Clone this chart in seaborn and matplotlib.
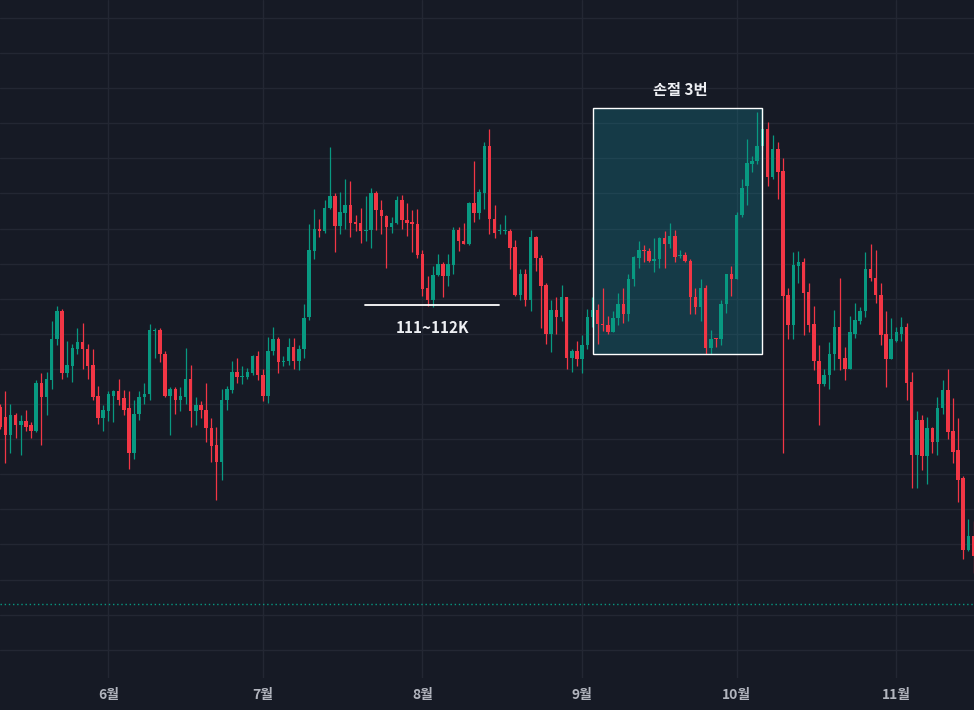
import numpy as np
import pandas as pd
import matplotlib
matplotlib.use("Agg")
import matplotlib.pyplot as plt
import matplotlib.dates as mdates
from matplotlib.patches import Rectangle
import seaborn as sns

# ============================================================
# DATA  (daily candles, price in thousand USD)
# ============================================================

start_date = "2025-05-11"
end_date = "2025-11-16"

opens = (
    [104.8, 104.1, 102.8, 104.2, 103.5, 103.8, 103.5, 103.1, 106.5, 105.5, 106.7, 109.6, 111.6, 107.2, 107.7, 108.9, 109.4, 108.9, 107.8, 105.6, 104.0]
    + [104.5, 105.6, 105.9, 105.4, 104.7, 101.5, 104.3, 105.5, 105.7, 110.2, 110.3, 108.6, 105.6, 106.1, 105.3, 105.5, 106.8, 104.5, 104.9, 104.6, 103.3, 102.1, 100.9, 105.3, 106.0, 107.3, 106.9, 106.9, 107.2, 108.4]
    + [107.1, 105.6, 108.8, 109.6, 108.0, 108.1, 109.1, 108.1, 108.9, 111.2, 115.9, 117.5, 117.3, 119.0, 119.8, 117.7, 118.6, 119.2, 118.0, 117.9, 117.3, 117.4, 120.0, 118.8, 118.4, 117.6, 117.9, 119.5, 118.1, 118.0, 117.8]
    + [115.7, 113.3, 112.4, 114.2, 115.0, 114.1, 114.9, 117.4, 116.6, 116.4, 119.3, 118.6, 120.0, 123.4, 118.2, 117.3, 117.3, 117.3, 116.2, 112.8, 114.3, 112.4, 116.9, 115.4, 113.5, 110.0, 111.7, 111.2, 112.6, 108.3, 108.8]
    + [108.2, 109.2, 111.2, 111.7, 110.7, 110.6, 110.1, 111.1, 112.1, 111.4, 113.9, 115.4, 116.0, 115.9, 115.2, 115.3, 116.8, 116.4, 117.0, 115.55, 115.6, 115.2, 112.6, 111.9, 113.3, 109.0, 109.65, 109.6, 112.1, 114.3]
    + [113.9, 118.5, 120.5, 122.1, 122.3, 123.4, 124.6, 121.2, 123.2, 121.6, 112.8, 110.6, 114.8, 115.1, 113.0, 110.7, 108.1, 106.4, 107.1, 108.6, 110.5, 108.3, 107.5, 110.0, 110.9, 111.6, 114.6, 114.0, 112.8, 110.0, 108.2]
    + [109.5, 110.0, 110.5, 106.6, 101.4, 103.9, 101.3, 103.3, 102.3, 104.7, 106.0, 103.1, 101.7, 99.7, 94.6, 95.6]
)

highs = (
    [105.0, 105.9, 105.0, 104.4, 104.2, 104.6, 103.7, 106.7, 107.2, 107.3, 110.9, 112.0, 111.8, 109.5, 109.3, 110.4, 110.8, 109.3, 108.9, 106.3, 104.9]
    + [105.9, 106.0, 106.8, 106.0, 105.9, 105.3, 105.9, 106.5, 110.7, 110.4, 110.4, 108.8, 106.2, 106.2, 106.2, 109.0, 107.8, 105.5, 105.2, 106.5, 104.0, 103.4, 106.1, 106.3, 108.1, 108.3, 107.7, 107.6, 108.5, 108.8]
    + [107.5, 109.8, 110.5, 109.8, 108.4, 109.7, 109.7, 109.2, 112.1, 117.8, 118.9, 118.2, 119.5, 123.3, 120.0, 120.1, 121.0, 120.9, 118.5, 119.0, 119.8, 120.4, 120.2, 119.5, 118.5, 118.3, 119.8, 119.9, 119.3, 118.8, 118.9]
    + [116.0, 114.1, 114.8, 115.7, 115.1, 115.7, 117.6, 117.6, 117.9, 119.4, 122.3, 120.3, 123.7, 124.6, 119.2, 117.8, 118.5, 117.5, 116.7, 114.6, 114.6, 117.4, 117.0, 115.6, 113.6, 112.4, 112.6, 113.5, 112.6, 108.9, 109.5]
    + [109.9, 111.8, 112.6, 112.1, 113.3, 111.3, 111.6, 112.9, 113.3, 114.3, 115.55, 116.6, 116.3, 116.1, 116.8, 116.9, 117.3, 117.9, 117.4, 116.0, 115.8, 115.3, 113.3, 113.9, 113.5, 110.3, 109.7, 112.4, 114.3, 114.8]
    + [118.7, 121.0, 123.9, 122.7, 125.8, 126.1, 125.1, 124.2, 123.7, 122.5, 113.3, 115.8, 115.9, 115.4, 113.6, 112.0, 109.2, 107.5, 109.4, 111.7, 114.0, 109.1, 111.3, 112.2, 111.9, 115.8, 116.4, 116.0, 113.6, 111.6, 111.1]
    + [110.5, 111.2, 110.8, 107.3, 104.5, 104.2, 104.1, 103.4, 105.5, 106.7, 107.5, 105.4, 104.0, 99.9, 96.8, 96.7]
)

lows = (
    [103.2, 100.8, 101.5, 102.6, 101.4, 103.1, 102.6, 103.0, 102.1, 104.2, 106.1, 109.2, 106.8, 106.9, 106.6, 108.6, 107.5, 106.8, 105.3, 103.6, 103.1]
    + [103.8, 103.7, 104.9, 104.2, 100.4, 101.1, 103.9, 105.0, 105.3, 108.3, 108.0, 105.5, 102.8, 104.3, 104.5, 105.0, 103.4, 103.5, 104.0, 102.3, 100.9, 98.2, 99.6, 104.6, 105.8, 106.5, 106.4, 106.8, 107.1, 106.7]
    + [105.2, 105.1, 108.5, 107.2, 107.7, 107.8, 107.5, 107.4, 108.3, 111.0, 115.3, 116.9, 117.2, 118.9, 115.8, 117.1, 117.5, 116.9, 117.3, 116.5, 116.6, 116.1, 117.4, 117.1, 114.7, 117.2, 117.8, 117.5, 117.0, 115.8, 115.4]
    + [112.7, 112.0, 111.9, 114.1, 112.6, 113.4, 114.3, 115.9, 116.4, 116.3, 118.0, 118.2, 118.9, 117.1, 116.8, 117.1, 117.1, 114.6, 112.7, 112.4, 112.0, 111.6, 114.5, 110.4, 109.3, 108.7, 110.0, 110.9, 107.5, 107.3, 107.7]
    + [107.2, 108.9, 110.5, 109.3, 110.2, 110.0, 110.1, 110.6, 110.8, 110.9, 113.4, 114.7, 115.1, 115.1, 114.4, 114.7, 114.7, 116.1, 115.1, 115.4, 115.1, 111.4, 111.4, 110.9, 108.6, 108.6, 109.1, 109.2, 111.5, 112.7]
    + [113.9, 118.3, 119.2, 121.5, 122.1, 123.1, 120.5, 121.0, 119.6, 101.5, 109.6, 109.6, 113.6, 109.9, 110.1, 107.4, 103.5, 106.3, 106.1, 107.4, 107.4, 106.7, 107.5, 109.7, 110.7, 111.2, 113.8, 112.2, 109.2, 106.2, 108.2]
    + [109.4, 109.5, 105.3, 99.0, 99.0, 100.3, 99.3, 101.5, 101.4, 104.3, 102.5, 100.8, 98.0, 94.0, 94.5, 93.0]
)

closes = (
    [103.4, 102.8, 104.2, 103.5, 103.8, 103.4, 103.1, 106.5, 105.5, 106.8, 109.6, 111.6, 107.2, 107.8, 109.0, 109.4, 108.9, 107.7, 105.5, 104.0, 104.6]
    + [105.7, 105.9, 105.3, 104.6, 101.5, 104.3, 105.5, 105.7, 110.3, 110.3, 108.6, 105.6, 106.1, 105.3, 105.6, 106.8, 104.5, 104.9, 104.6, 103.3, 102.0, 100.9, 105.3, 106.1, 107.3, 106.9, 107.0, 107.3, 108.4, 107.1]
    + [105.6, 108.8, 109.6, 108.0, 108.1, 109.1, 108.1, 108.9, 111.1, 116.0, 117.5, 117.3, 119.0, 119.8, 117.7, 118.7, 119.2, 117.9, 117.8, 117.3, 117.4, 120.0, 118.8, 118.4, 117.6, 117.9, 119.5, 118.1, 117.9, 117.8, 115.6]
    + [113.2, 112.4, 114.2, 115.0, 114.1, 115.0, 117.4, 116.6, 116.4, 119.3, 118.6, 120.1, 123.4, 118.2, 117.2, 117.35, 117.35, 116.1, 112.8, 114.3, 112.4, 116.9, 115.4, 113.4, 110.0, 111.7, 111.2, 112.6, 108.3, 108.8, 108.2]
    + [109.2, 111.2, 111.7, 110.7, 110.6, 110.1, 111.1, 112.1, 111.4, 113.9, 115.5, 116.0, 115.9, 115.2, 115.3, 116.8, 116.4, 117.0, 115.5, 115.6, 115.2, 112.6, 111.9, 113.3, 109.0, 109.6, 109.6, 112.1, 114.3, 113.9]
    + [118.5, 120.4, 122.2, 122.3, 123.4, 124.6, 121.2, 123.2, 121.5, 112.7, 110.6, 114.9, 115.1, 112.9, 110.6, 108.1, 106.4, 107.1, 108.6, 110.5, 108.2, 107.5, 110.1, 111.0, 111.6, 114.6, 114.0, 112.8, 109.9, 108.2, 109.6]
    + [110.1, 110.5, 106.5, 101.4, 103.9, 101.3, 103.3, 102.3, 104.7, 106.0, 103.0, 101.6, 99.6, 94.6, 95.6, 94.2]
)

month_ticks = ["2025-06-01", "2025-07-01", "2025-08-01", "2025-09-01", "2025-10-01", "2025-11-01"]
month_labels = ["6월", "7월", "8월", "9월", "10월", "11월"]

last_price = 90.74          # dotted "current price" line
support_level = 112.06      # 111~112K line
box_low, box_high = 108.57, 126.09

# ============================================================
# STYLE
# ============================================================

BG = "#161a25"
GRID = "#232733"
UP = "#089981"
DOWN = "#f23645"
TEXT = "#eef0f4"
AXIS_TEXT = "#b2b5be"

sns.set_theme(style="dark", rc={
    "axes.facecolor": BG,
    "figure.facecolor": BG,
    "grid.color": GRID,
    "grid.linewidth": 1.0,
})
plt.rcParams["font.family"] = ["Noto Sans CJK KR", "DejaVu Sans"]

df = pd.DataFrame({
    "date": pd.date_range(start_date, end_date, freq="D"),
    "open": opens,
    "high": highs,
    "low": lows,
    "close": closes,
})
df["up"] = df["close"] >= df["open"]
df["color"] = np.where(df["up"], UP, DOWN)
df["body_low"] = df[["open", "close"]].min(axis=1)
df["body_h"] = (df["close"] - df["open"]).abs().clip(lower=0.08)

# ============================================================
# PLOT
# ============================================================

fig = plt.figure(figsize=(9.74, 7.10), dpi=100)
ax = fig.add_axes([0, 32 / 710, 1, 678 / 710])

jun1 = mdates.date2num(pd.Timestamp("2025-06-01"))

# box under the candles (fill), edge on top
ax.add_patch(Rectangle((jun1 + 94.1, box_low), 32.8, box_high - box_low,
                       facecolor="#149aad", alpha=0.25, edgecolor="none", zorder=1))

ax.vlines(df["date"], df["low"], df["high"], colors=df["color"], linewidth=0.9, zorder=2)
ax.bar(df["date"], df["body_h"], bottom=df["body_low"], width=0.68,
       color=df["color"], linewidth=0, zorder=3)

ax.add_patch(Rectangle((jun1 + 94.1, box_low), 32.8, box_high - box_low,
                       facecolor="none", edgecolor="white", linewidth=1.0, zorder=4))

ax.axhline(last_price, color=UP, linestyle=(0, (1, 2)), linewidth=1.0, zorder=2)

ax.plot([jun1 + 49.84, jun1 + 75.86], [support_level, support_level],
        color="white", linewidth=1.3, zorder=4)
ax.text(jun1 + 63.0, 110.42, "111~112K", color=TEXT, fontsize=11,
        fontweight="bold", ha="center", va="center", zorder=5)
ax.text(jun1 + 111.0, 127.37, "손절 3번", color=TEXT, fontsize=11,
        fontweight="bold", ha="center", va="center", zorder=5)

ax.set_xlim(jun1 - 21.03, jun1 + 168.09)
ax.set_ylim(85.49, 133.78)

ax.set_yticks(np.arange(87.5, 133.0, 2.5))
ax.set_xticks(mdates.date2num(pd.to_datetime(month_ticks)))
ax.set_xticklabels(month_labels)
ax.tick_params(axis="x", length=0, pad=7, labelsize=10, colors=AXIS_TEXT)
ax.tick_params(axis="y", length=0, labelleft=False)
for lab in ax.get_xticklabels():
    lab.set_fontweight("bold")

ax.grid(True, axis="both", color=GRID, linewidth=1.0)
ax.set_axisbelow(True)
sns.despine(ax=ax, left=True, bottom=True, right=True, top=True)
ax.set_xlabel("")
ax.set_ylabel("")

fig.savefig("out.png", dpi=100, facecolor=BG)
